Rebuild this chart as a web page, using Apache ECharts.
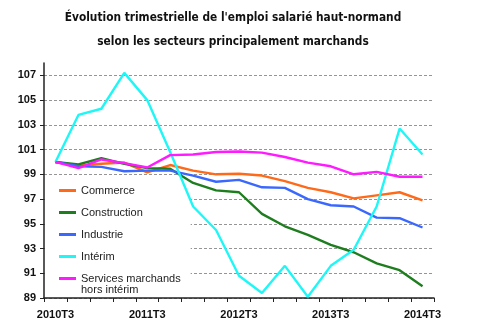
<!DOCTYPE html>
<html>
<head>
<meta charset="utf-8">
<script src="https://cdn.jsdelivr.net/npm/echarts@6/dist/echarts.min.js"></script>
<style>
html,body{margin:0;padding:0;background:#fff;}
#chart{width:480px;height:331px;}
</style>
</head>
<body>
<div id="chart"></div>
<script>
const titleLines = ["Évolution trimestrielle de l'emploi salarié haut-normand", "selon les secteurs principalement marchands"];
const categories = ['2010T3','2010T4','2011T1','2011T2','2011T3','2011T4','2012T1','2012T2','2012T3','2012T4','2013T1','2013T2','2013T3','2013T4','2014T1','2014T2','2014T3'];
const seriesNames = ['Commerce', 'Construction', 'Industrie', 'Intérim', 'Services marchands hors intérim'];
const legendLines = ['Services marchands', 'hors intérim'];
const commerce     = [100, 99.7, 99.85, 99.95, 99.15, 99.75, 99.3, 99.0, 99.05, 98.9, 98.45, 97.9, 97.55, 97.05, 97.3, 97.55, 96.9];
const construction = [100, 99.8, 100.3, 99.85, 99.5, 99.45, 98.3, 97.7, 97.55, 95.8, 94.8, 94.1, 93.3, 92.7, 91.8, 91.25, 89.95];
const industrie    = [100, 99.65, 99.6, 99.25, 99.3, 99.3, 98.9, 98.4, 98.55, 97.95, 97.9, 97.0, 96.5, 96.4, 95.5, 95.45, 94.7];
const interim      = [100, 103.8, 104.3, 107.2, 105.0, 100.8, 96.4, 94.5, 90.8, 89.4, 91.6, 89.1, 91.6, 92.9, 96.4, 102.7, 100.6];
const services     = [100, 99.5, 100.2, 99.9, 99.55, 100.55, 100.6, 100.8, 100.85, 100.75, 100.4, 99.95, 99.65, 99.0, 99.2, 98.8, 98.8];
const seriesValues = [commerce, construction, industrie, interim, services];
const colors = ['#ff6a1a', '#1e7d1e', '#3a68ff', '#1ff7f7', '#ff1aff'];

const chart = echarts.init(document.getElementById('chart'), null, {renderer: 'canvas'});
const titleFont = '"Liberation Sans Narrow", "Arial Narrow", "DejaVu Sans Condensed", sans-serif';
const baseFont = '"Liberation Sans", Arial, sans-serif';

const gridColors = [];
for (let i = 0; i < 10; i++) gridColors.push('#959595');
gridColors.push('rgba(0,0,0,0)');

chart.setOption({
  animation: false,
  backgroundColor: '#fff',
  color: colors,
  title: [
    {text: titleLines[0], left: 233, top: 10, textAlign: 'center', padding: 0,
     textStyle: {fontFamily: titleFont, fontWeight: 'bold', fontSize: 11.8, color: '#111', lineHeight: 15}},
    {text: titleLines[1], left: 233, top: 34, textAlign: 'center', padding: 0,
     textStyle: {fontFamily: titleFont, fontWeight: 'bold', fontSize: 11.8, color: '#111', lineHeight: 15}}
  ],
  legend: {
    orient: 'vertical',
    left: 45,
    top: 180,
    z: 1,
    backgroundColor: '#fff',
    padding: [4, 10, 12, 14],
    itemGap: 9,
    icon: 'rect',
    itemWidth: 17,
    itemHeight: 3,
    data: seriesNames,
    formatter: function (name) {
      return name === seriesNames[4] ? legendLines[0] : name;
    },
    textStyle: {fontFamily: baseFont, fontSize: 11, color: '#222', lineHeight: 13}
  },
  graphic: [{
    type: 'text',
    left: 81,
    top: 284,
    z: 5,
    style: {text: legendLines[1], font: '11px "Liberation Sans", Arial, sans-serif', fill: '#222'}
  }],
  grid: {left: 44, right: 46, top: 63, bottom: 33},
  xAxis: {
    type: 'category',
    data: categories,
    boundaryGap: true,
    axisLine: {lineStyle: {color: '#222', width: 1.5}},
    axisTick: {show: true, interval: 0, length: 4, lineStyle: {color: '#222', width: 1}},
    axisLabel: {interval: 3, margin: 11, fontFamily: baseFont, fontWeight: 'bold', fontSize: 11, color: '#111'},
    splitLine: {show: false}
  },
  yAxis: {
    type: 'value',
    min: 89,
    max: 108,
    interval: 2,
    axisLine: {show: true, lineStyle: {color: '#222', width: 1.5}},
    axisTick: {show: true, length: 4, lineStyle: {color: '#222', width: 1}},
    axisLabel: {showMaxLabel: false, margin: 8, fontFamily: baseFont, fontWeight: 'bold', fontSize: 11, color: '#111'},
    splitLine: {show: true, lineStyle: {color: gridColors, type: [3, 2], width: 1}}
  },
  series: seriesNames.map(function (n, i) {
    return {
      name: n,
      type: 'line',
      data: seriesValues[i],
      symbol: 'none',
      smooth: false,
      z: 2,
      lineStyle: {width: 2.4, color: colors[i]},
      itemStyle: {color: colors[i]}
    };
  })
});
</script>
</body>
</html>
